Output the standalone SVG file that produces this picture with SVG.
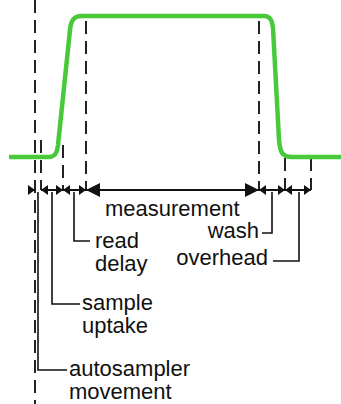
<svg xmlns="http://www.w3.org/2000/svg" width="341" height="404" viewBox="0 0 341 404">
<style>
.dash{stroke:#222;stroke-width:2;stroke-dasharray:13 7;fill:none}
.dim{stroke:#111;stroke-width:2;fill:none}
.lead{stroke:#111;stroke-width:1.6;fill:none}
.sig{stroke:#47c93a;stroke-width:4.5;fill:none;stroke-linejoin:round}
text{font-family:"Liberation Sans",Arial,Helvetica,sans-serif;font-size:22px;fill:#111}
</style>
<defs>
<marker id="as" markerUnits="userSpaceOnUse" markerWidth="8" markerHeight="10" refX="7" refY="5" orient="auto-start-reverse"><path d="M0,0 L7,5 L0,10 Z" fill="#111"/></marker>
<marker id="al" markerUnits="userSpaceOnUse" markerWidth="15" markerHeight="14" refX="14" refY="7" orient="auto-start-reverse"><path d="M0,0 L14,7 L0,14 Z" fill="#111"/></marker>
</defs>
<g id="guides">
<line class="dash" x1="35" y1="0" x2="35" y2="404"/>
<line class="dash" x1="41" y1="140" x2="41" y2="190"/>
<line class="dash" x1="63" y1="145" x2="63" y2="190"/>
<line class="dash" x1="86" y1="21" x2="86" y2="190"/>
<line class="dash" x1="259" y1="21" x2="259" y2="190"/>
<line class="dash" x1="285" y1="158" x2="285" y2="190"/>
<line class="dash" x1="311" y1="158" x2="311" y2="190"/>
</g>
<g id="signal">
<path class="sig" d="M9,157 H48 C56,157 57,152 58,145 L70,30 C71,20 74,16 82,16 H264 C270,16 272,20 273,28 L279,140 C280,152 282,157 292,157 H341"/>
</g>
<g id="connectors">
<line class="dim" x1="28" y1="190" x2="35" y2="190" marker-end="url(#as)"/>
<line class="dim" x1="41" y1="190" x2="63" y2="190" marker-start="url(#as)" marker-end="url(#as)"/>
<line class="dim" x1="63" y1="190" x2="86" y2="190" marker-start="url(#as)" marker-end="url(#as)"/>
<line class="dim" x1="86" y1="190" x2="259" y2="190" marker-start="url(#al)" marker-end="url(#al)"/>
<line class="dim" x1="259" y1="190" x2="285" y2="190" marker-start="url(#as)" marker-end="url(#as)"/>
<line class="dim" x1="285" y1="190" x2="311" y2="190" marker-start="url(#as)" marker-end="url(#as)"/>
<path class="lead" d="M74,192 V241 H90"/>
<path class="lead" d="M52,192 V304 H80"/>
<path class="lead" d="M38,192 V370 H67"/>
<path class="lead" d="M272,192 V233 H262"/>
<path class="lead" d="M299,192 V261 H273"/>
</g>
<g id="measurement"><text x="105" y="216">measurement</text></g>
<g id="read-delay"><text x="95" y="248">read</text><text x="95" y="271">delay</text></g>
<g id="sample-uptake"><text x="82" y="310">sample</text><text x="82" y="333">uptake</text></g>
<g id="autosampler-movement"><text x="69" y="376">autosampler</text><text x="69" y="399">movement</text></g>
<g id="wash"><text x="259" y="238" text-anchor="end">wash</text></g>
<g id="overhead"><text x="268" y="265" text-anchor="end">overhead</text></g>
</svg>
